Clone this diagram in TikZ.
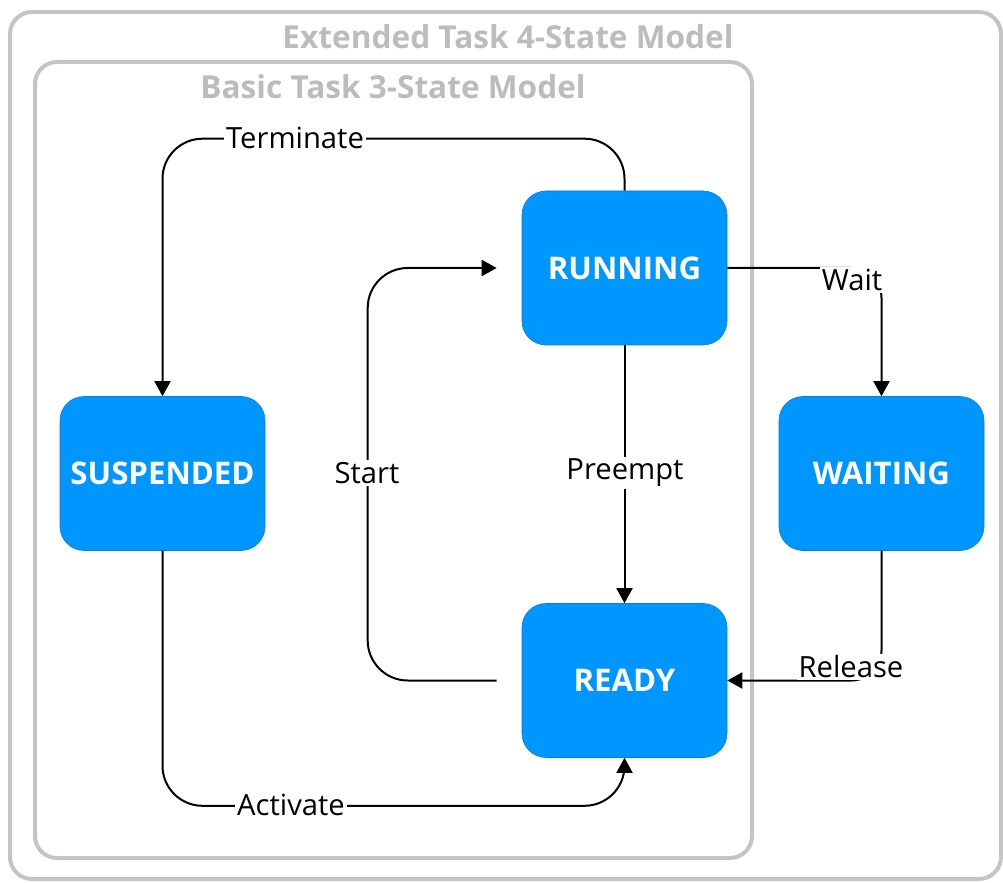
\documentclass[tikz,border=0pt]{standalone}
\usepackage{fontspec}
\setmainfont{Open Sans}
\usetikzlibrary{arrows.meta,positioning,calc}
\definecolor{stateblue}{RGB}{0,150,255}
\definecolor{framegray}{RGB}{196,196,196}
\definecolor{titlegray}{RGB}{188,188,188}
\tikzset{
  state/.style ={rectangle,draw=stateblue!85!black,line width=0.3pt,fill=stateblue,
                 rounded corners=12pt,minimum width=102.5pt,minimum height=77pt,
                 text=white,font=\fontsize{15.6}{18}\selectfont\bfseries},
  frame/.style ={draw=framegray,line width=2pt,rounded corners=11pt},
  ttl/.style   ={text=titlegray,font=\fontsize{15.8}{18}\selectfont\bfseries},
  flow/.style  ={-{Triangle[length=7.5pt,width=8pt]},line width=1pt,rounded corners=15pt},
  lbl/.style   ={fill=white,inner sep=1pt,font=\fontsize{14.6}{17}\selectfont},
}
\begin{document}
\begin{tikzpicture}[x=0.5pt,y=-0.5pt]
  \useasboundingbox (0,0) rectangle (1003,883);
  % model frames
  \draw[frame] (10,12) rectangle (1001,879);
  \draw[frame] (35,62) rectangle (752,858);
  \node[ttl] (extttl) at (508,37) {Extended Task 4-State Model};
  \node[ttl] (basttl) at (393,87) {Basic Task 3-State Model};
  % states
  \node[state] (running)   at (624.5,268)   {RUNNING};
  \node[state] (suspended) at (162.5,473.5) {SUSPENDED};
  \node[state] (waiting)   at (881.5,473.5) {WAITING};
  \node[state] (ready)     at (624.5,680.5) {READY};
  % transitions
  \draw[flow,rounded corners=20pt] (running.north) -- ++(0,-52) -| (suspended.north);
  \draw[flow] (running.east) -| (waiting.north);
  \draw[flow] (waiting.south) |- (ready.east);
  \draw[flow] (running.south) -- (ready.north);
  \draw[flow,rounded corners=20pt,shorten <=12.5pt,shorten >=12.5pt]
    (ready.west) -- ++(-154,0) |- (running.west);
  \draw[flow,rounded corners=20pt] (suspended.south) -- ++(0,255) -| (ready.south);
  % labels
  \node[lbl] (terminate) at (295,138) {Terminate};
  \node[lbl] (wait)      at (852,280) {Wait};
  \node[lbl] (release)   at (851,667) {Release};
  \node[lbl] (preempt)   at (625,473) {Preempt};
  \node[lbl] (start)     at (367,473) {Start};
  \node[lbl] (activate)  at (291,805) {Activate};
\end{tikzpicture}
\end{document}
